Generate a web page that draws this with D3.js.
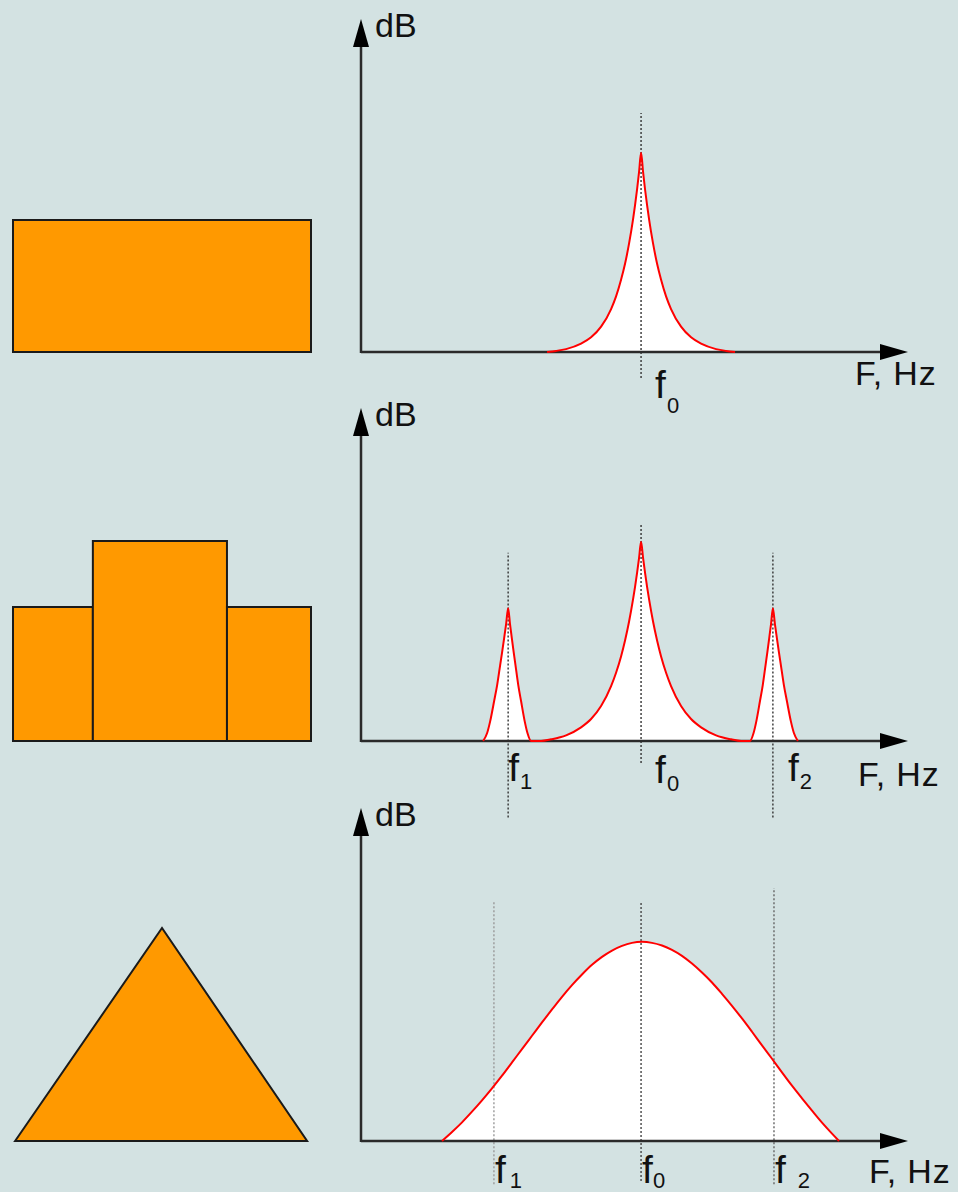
<!DOCTYPE html>
<html>
<head>
<meta charset="utf-8">
<script src="https://cdn.jsdelivr.net/npm/d3@7"></script>
<style>
  body { margin: 0; background: #d3e2e2; }
  svg { display: block; font-family: "Liberation Sans", Arial, sans-serif; }
</style>
</head>
<body>
<svg id="chart"></svg>
<script>
// spectrum values: [frequency (0-100 along axis), dB (0-100 up the axis)]
const singleToneCurve = [
    [34.02, 0], [35.66, 0.32], [37.49, 0.87], [40.23, 2.5], [42.06, 4.4], [43.89, 7.6],
    [45.72, 12.9], [46.63, 16.7], [47.54, 21.7], [48.27, 26.5], [49.01, 32.6], [49.74, 39.9],
    [50.10, 44.1], [50.47, 48.8], [50.83, 54.0], [51.2, 59.8],
    [51.57, 54.0], [51.93, 48.8], [52.30, 44.1], [52.66, 39.9], [53.39, 32.6], [54.13, 26.5],
    [54.86, 21.7], [55.77, 16.7], [56.68, 12.9], [58.51, 7.6], [60.34, 4.4], [62.17, 2.5],
    [64.91, 0.87], [66.74, 0.32], [68.38, 0]
];

const stepCurve = [
    // f1 side peak
    [22.33, 0], [23.06, 2.4], [23.61, 5.9], [24.34, 12.0], [24.89, 16.8], [25.44, 22.8],
    [25.80, 26.7], [26.17, 30.9], [26.53, 35.1], [26.9, 39.9],
    [27.24, 35.1], [27.57, 30.9], [27.91, 26.7], [28.24, 22.8], [28.75, 16.8], [29.26, 12.0],
    [29.93, 5.9], [30.43, 2.4], [31.10, 0],
    // f0 central peak
    [32.92, 0], [34.75, 0.5], [37.49, 1.7], [40.23, 4.1], [42.06, 6.6], [43.89, 10.5],
    [45.72, 16.5], [46.63, 20.5], [47.54, 25.4], [48.27, 30.2], [49.01, 35.9], [49.74, 42.6],
    [50.10, 46.3], [50.47, 50.5], [50.83, 54.9], [51.2, 59.8],
    [51.57, 54.9], [51.93, 50.5], [52.30, 46.3], [52.66, 42.6], [53.39, 35.9], [54.13, 30.2],
    [54.86, 25.4], [55.77, 20.5], [56.68, 16.5], [58.51, 10.5], [60.34, 6.6], [62.17, 4.1],
    [64.91, 1.7], [67.65, 0.5], [69.48, 0],
    // f2 side peak
    [71.10, 0], [71.77, 2.4], [72.27, 5.9], [72.94, 12.0], [73.45, 16.8], [73.96, 22.8],
    [74.29, 26.7], [74.63, 30.9], [74.96, 35.1], [75.3, 39.9],
    [75.67, 35.1], [76.03, 30.9], [76.40, 26.7], [76.76, 22.8], [77.31, 16.8], [77.86, 12.0],
    [78.59, 5.9], [79.14, 2.4], [79.87, 0]
];

const triangleCurve = [
    [14.81, 0], [16.64, 2.7], [18.47, 5.6], [20.29, 8.8], [22.12, 12.2], [23.95, 15.8],
    [25.78, 19.6], [27.61, 23.6], [29.43, 27.6], [31.26, 31.6], [33.09, 35.6], [34.92, 39.5],
    [36.75, 43.3], [38.57, 46.8], [40.40, 50.0], [42.23, 52.9], [44.06, 55.3], [45.89, 57.2],
    [47.71, 58.6], [49.54, 59.5], [51.37, 59.8],
    [53.20, 59.5], [55.03, 58.7], [56.85, 57.4], [58.68, 55.6], [60.51, 53.3], [62.34, 50.6],
    [64.17, 47.6], [65.99, 44.2], [67.82, 40.6], [69.65, 36.8], [71.48, 32.8], [73.31, 28.7],
    [75.14, 24.7], [76.96, 20.6], [78.79, 16.6], [80.62, 12.8], [82.45, 9.1], [84.28, 5.5],
    [86.11, 2.2], [87.39, 0]
];

// marker frequencies (name, subscript, frequency)
const singleMarkers = [["f", "0", 51.2]];
const stepMarkers = [["f", "1", 26.9], ["f", "0", 51.2], ["f", "2", 75.3]];
const triangleMarkers = [["f", "1", 24.3], ["f", "0", 51.2], ["f", "2", 75.5]];

// envelope shapes on the left: [x0, x1, height] in 0-100 units
const rectShape = [[0, 100, 66]];
const stepShape = [[0, 26.8, 67], [26.8, 71.8, 100], [71.8, 100, 67]];
const triangleShape = [[0.7, 0], [50.0, 106.5], [98.7, 0]];

const axisLabels = { y: "dB", x: "F, Hz" };

function drawChart() {
    const width = 958;
    const height = 1192;

    const svg = d3.select("#chart")
        .attr("width", width)
        .attr("height", height)
        .style("background-color", "#d3e2e2");

    // frequency axis is the same for all three panels
    const xScale = d3.scaleLinear().domain([0, 100]).range([361, 908]);
    const shapeX = d3.scaleLinear().domain([0, 100]).range([13, 311]);

    const panels = [
        {
            base: 352, curve: singleToneCurve, markers: singleMarkers,
            guides: [[-7.8, 71.8, "#333"]],
            labelDx: [14], labelDy: [46], subDy: [15],
            xLabel: [855, 33],
            shape: "bars", bars: rectShape
        },
        {
            base: 741, curve: stepCurve, markers: stepMarkers,
            guides: [[-23, 56.5, "#333"], [-6.6, 65.5, "#333"], [-23, 56.5, "#333"]],
            labelDx: [0, 14, 15], labelDy: [40, 42, 40], subDy: [8, 8, 8],
            xLabel: [858, 45],
            shape: "bars", bars: stepShape
        },
        {
            base: 1141, curve: triangleCurve, markers: triangleMarkers,
            guides: [[-13, 71.8, "#999"], [-12, 71.8, "#444"], [-13, 76, "#666"]],
            labelDx: [1, 1, 1], labelDy: [42, 42, 42], subDy: [5, 5, 5], subDx: [4, 0, 12],
            xLabel: [869, 42],
            shape: "triangle", points: triangleShape
        }
    ];

    panels.forEach(p => drawPanel(svg, p, xScale, shapeX));
}

function drawPanel(svg, p, xScale, shapeX) {
    const yScale = d3.scaleLinear().domain([0, 100]).range([p.base, p.base - 333]);
    const shapeY = d3.scaleLinear().domain([0, 100]).range([p.base, p.base - 200]);
    const g = svg.append("g");

    // envelope shape on the left
    if (p.shape === "bars") {
        g.selectAll("rect")
            .data(p.bars)
            .enter()
            .append("rect")
                .attr("x", d => shapeX(d[0]))
                .attr("y", d => shapeY(d[2]))
                .attr("width", d => shapeX(d[1]) - shapeX(d[0]))
                .attr("height", d => shapeY(0) - shapeY(d[2]))
                .attr("fill", "#ff9900")
                .attr("stroke", "#1a1a1a")
                .attr("stroke-width", 2);
    } else {
        g.append("path")
            .datum(p.points)
            .attr("d", d3.line().x(d => shapeX(d[0])).y(d => shapeY(d[1])).curve(d3.curveLinearClosed))
            .attr("fill", "#ff9900")
            .attr("stroke", "#1a1a1a")
            .attr("stroke-width", 2);
    }

    // white area under the spectrum
    const area = d3.area()
        .x(d => xScale(d[0]))
        .y0(yScale(0))
        .y1(d => yScale(d[1]))
        .curve(d3.curveMonotoneX);

    g.append("path")
        .datum(p.curve)
        .attr("d", area)
        .attr("fill", "#ffffff");

    // dotted guide lines at the marker frequencies
    p.markers.forEach((m, i) => {
        const gd = p.guides[i];
        g.append("line")
            .attr("x1", xScale(m[2]))
            .attr("x2", xScale(m[2]))
            .attr("y1", yScale(gd[0]))
            .attr("y2", yScale(gd[1]))
            .attr("stroke", gd[2])
            .attr("stroke-width", 1.4)
            .attr("stroke-dasharray", "2,2");
    });

    // axes
    const x0 = xScale(0);
    const tipY = yScale(100);
    const tipX = xScale(100);

    g.append("line")
        .attr("x1", x0).attr("x2", x0)
        .attr("y1", p.base + 1).attr("y2", tipY + 20)
        .attr("stroke", "#2a2a2a").attr("stroke-width", 2.5);

    g.append("line")
        .attr("x1", x0).attr("x2", tipX - 20)
        .attr("y1", p.base).attr("y2", p.base)
        .attr("stroke", "#2a2a2a").attr("stroke-width", 2.5);

    // spectrum outline
    g.append("path")
        .datum(p.curve)
        .attr("d", d3.line().x(d => xScale(d[0])).y(d => yScale(d[1])).curve(d3.curveMonotoneX))
        .attr("fill", "none")
        .attr("stroke", "#ff0000")
        .attr("stroke-width", 2);

    // arrow heads
    g.append("path")
        .attr("d", `M${x0},${tipY} L${x0 - 8},${tipY + 28} L${x0 + 8},${tipY + 28} Z`)
        .attr("fill", "#000");

    g.append("path")
        .attr("d", `M${tipX},${p.base} L${tipX - 28},${p.base - 8} L${tipX - 28},${p.base + 8} Z`)
        .attr("fill", "#000");

    // axis labels
    g.append("text")
        .attr("x", x0 + 14)
        .attr("y", tipY + 18)
        .style("font-size", "34px")
        .attr("fill", "#111")
        .text(axisLabels.y);

    g.append("text")
        .attr("x", p.xLabel[0])
        .attr("y", p.base + p.xLabel[1])
        .style("font-size", "34px")
        .style("letter-spacing", "0.8px")
        .attr("fill", "#111")
        .text(axisLabels.x);

    // marker labels f0, f1, f2
    p.markers.forEach((m, i) => {
        const t = g.append("text")
            .attr("x", xScale(m[2]) + p.labelDx[i])
            .attr("y", p.base + p.labelDy[i])
            .style("font-size", "39px")
            .attr("fill", "#111")
            .text(m[0]);
        t.append("tspan")
            .attr("dx", p.subDx ? p.subDx[i] : 1)
            .attr("dy", p.subDy[i])
            .style("font-size", "22px")
            .text(m[1]);
    });
}

drawChart();
</script>
</body>
</html>
